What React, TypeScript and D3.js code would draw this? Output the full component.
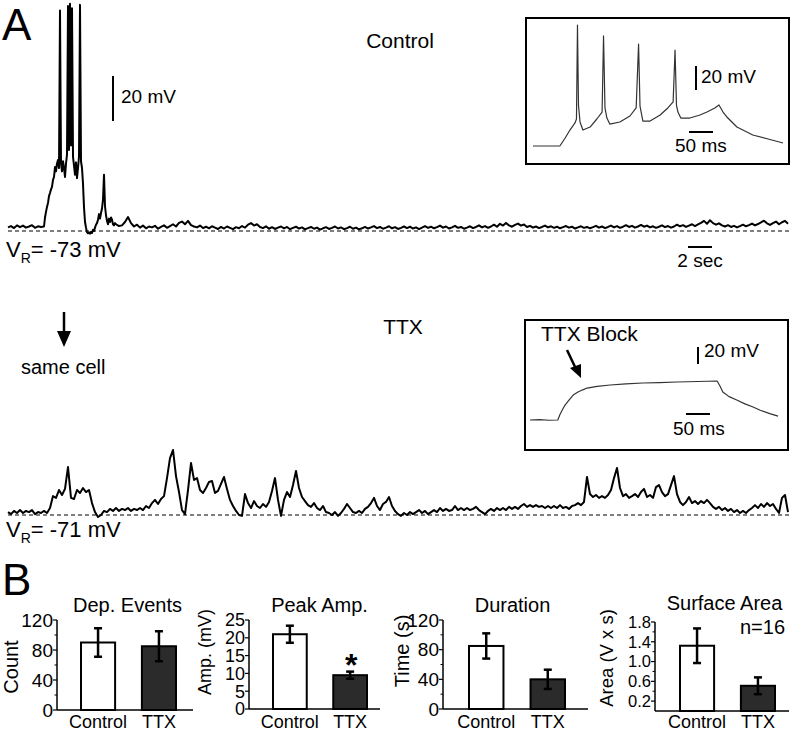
import React from "react";
import * as d3 from "d3";

const FONT = '"Liberation Sans", Arial, Helvetica, sans-serif';

// ---------- Panel A: traces, depolarisation above V_R (mV) ----------
// control, 0 – 2.75 s every 0.25 s
const controlPre = [1.6, 2.2, 1.3, 2.5, 1.7, 2.4, 1.5, 2.0, 2.6, 1.4, 2.1, 1.8];
// control burst, 3 s – 8.92 s every 1/12 s
const controlBurst = [
  2.0, 6.0, 8.5, 10.7, 12.5, 15.5, 16.9, 18.5, 19.6, 22.7,
  24.0, 28.4, 26.5, 30.0, 31.5, 28.0, 98.0, 30.0, 26.5, 31.0,
  28.0, 24.0, 30.0, 34.0, 100.0, 36.0, 101.0, 38.0, 99.0, 33.0,
  29.0, 25.0, 30.5, 23.5, 28.0, 33.0, 100.5, 31.0, 28.0, 21.0,
  10.5, 4.0, 1.5, -0.5, -1.0, -0.6, -1.2, -0.4, -0.9, 0.5,
  0.0, 1.5, 2.8, 3.5, 5.0, 7.5, 5.5, 8.0, 10.0, 14.0,
  25.0, 11.0, 7.0, 4.5, 3.0, 5.5, 4.0, 6.0, 5.0, 3.0,
  2.5, 3.5,
];
// control, 9 s – 65 s every 0.25 s
const controlPost = [
  3.0, 2.2, 2.5, 4.0, 6.2, 3.5, 2.0, 2.8, 1.5, 2.4, 1.2, 2.0, 1.6, 2.3, 1.0,
  1.8, 2.5, 1.4, 2.2, 3.0, 2.0, 3.6, 4.2, 3.0, 4.5, 2.6, 2.0, 1.6, 2.4, 1.3,
  1.9, 1.2, 2.1, 1.5, 0.9, 1.8, 1.1, 2.0, 1.4, 0.8, 1.7, 1.2, 2.2, 1.5, 2.8,
  3.5, 2.4, 3.0, 1.8, 1.3, 2.1, 1.0, 1.7, 0.9, 1.5, 2.0, 1.2, 1.8, 0.8, 1.4,
  1.9, 1.1, 1.6, 0.7, 1.3, 1.8, 1.0, 1.5, 0.6, 1.2, 1.7, 0.9, 1.4, 2.0, 1.1,
  1.6, 0.8, 1.3, 1.9, 1.0, 1.5, 0.7, 1.2, 1.8, 1.1, 1.6, 2.2, 1.3, 1.8, 1.0,
  1.5, 2.1, 1.2, 1.7, 0.9, 1.4, 2.0, 1.3, 1.9, 1.1, 1.6, 0.8, 1.5, 2.2, 1.4,
  1.9, 1.2, 1.7, 2.4, 1.5, 2.0, 1.1, 1.6, 2.3, 1.4, 1.8, 1.0, 1.5, 2.1, 1.3,
  1.8, 2.5, 1.6, 2.2, 1.4, 2.0, 2.8, 1.9, 3.2, 2.4, 3.6, 2.5, 1.9, 2.7, 3.3,
  2.4, 2.9, 1.8, 2.3, 1.5, 2.0, 1.3, 1.8, 2.4, 1.6, 2.1, 1.4, 1.9, 1.2, 1.7,
  2.2, 1.5, 1.9, 1.1, 1.6, 2.1, 1.4, 1.8, 1.2, 1.7, 2.3, 1.5, 2.0, 1.3, 1.8,
  2.4, 1.6, 2.2, 1.4, 1.9, 2.6, 1.8, 2.3, 1.5, 2.0, 2.7, 1.9, 2.4, 1.6, 2.1,
  1.4, 1.9, 2.5, 1.7, 2.2, 1.5, 2.0, 2.8, 2.1, 2.6, 1.8, 2.4, 3.0, 2.2, 2.9,
  3.6, 4.5, 3.2, 4.8, 3.5, 2.8, 3.4, 2.5, 2.0, 2.6, 1.8, 2.3, 1.6, 2.2, 2.8,
  2.1, 2.6, 3.3, 2.5, 3.1, 3.8, 4.6, 3.4, 2.7, 3.5, 4.2, 3.0, 3.9, 4.5, 3.2,
];
// TTX, 0 – 65 s every 0.25 s
const ttxTrace = [
  1.3, 0.4, 1.8, 0.9, 2.2, 0.9, 1.8, 1.3, 2.2, 0.4, 1.3, 0.9, 1.8, 0.9, 3.1,
  8.4, 7.6, 11.1, 8.9, 11.6, 21.3, 7.6, 7.1, 11.1, 9.8, 12.0, 10.2, 11.1, 5.3, 1.3,
  -0.9, 0, 1.8, 1.3, 2.7, 1.8, 3.1, 1.8, 2.7, 2.2, 3.1, 1.8, 2.7, 2.2, 3.1,
  2.2, 4.0, 3.1, 5.3, 6.7, 4.9, 7.1, 8.4, 16.4, 25.3, 28.9, 17.3, 10.2, 2.2, 0.4,
  11.1, 23.1, 15.6, 16.4, 11.1, 9.8, 12.0, 14.7, 15.1, 9.8, 10.7, 13.8, 16.9, 11.6, 6.7,
  4.0, 1.8, 0, -0.4, 9.3, 5.3, 3.1, 6.2, 4.0, 3.1, 4.9, 3.6, 5.8, 10.7, 16.4,
  6.7, -0.4, 6.7, 10.2, 8.0, 13.3, 19.6, 12.0, 8.0, 6.2, 4.4, 3.6, 5.3, 3.1, 2.2,
  4.0, 1.3, 0.9, 0, 1.3, -0.4, 0.9, 2.7, 4.9, 3.1, 1.3, 0.9, 1.8, 0.9, 2.7,
  3.6, 5.3, 7.6, 4.0, 2.2, 4.9, 5.8, 8.0, 4.0, 1.8, 0.4, -0.4, 0.9, 0, 1.3,
  0.4, 1.3, 2.2, 0.9, 1.8, 0.4, 1.3, 2.2, 1.3, 3.1, 1.8, 2.7, 1.8, 2.2, 4.0,
  2.2, 3.1, 2.2, 3.1, 2.2, 2.7, 3.6, 2.2, 1.3, 0.4, 1.8, 2.7, 1.8, 3.1, 2.2,
  3.1, 2.2, 3.6, 2.7, 3.6, 2.7, 4.0, 4.9, 3.6, 4.4, 3.6, 4.4, 3.6, 4.0, 3.1,
  4.0, 3.1, 4.0, 3.1, 4.4, 3.1, 3.6, 2.7, 4.0, 4.4, 5.3, 4.4, 5.8, 16.9, 9.3,
  8.0, 8.9, 7.6, 8.4, 7.6, 8.9, 11.1, 16.4, 20.9, 12.0, 8.4, 9.3, 7.6, 8.4, 9.3,
  8.0, 10.2, 11.6, 8.0, 8.9, 7.6, 12.4, 13.3, 10.2, 8.4, 9.3, 13.3, 17.3, 9.3, 5.8,
  4.4, 5.8, 8.0, 5.3, 6.2, 4.9, 6.2, 5.3, 6.7, 5.3, 3.6, 2.7, 3.6, 2.2, 3.1,
  1.8, 2.7, 1.3, 2.2, 0.9, 1.8, 0.9, 2.2, 3.1, 4.4, 3.1, 4.9, 3.6, 5.3, 4.0,
  4.9, 2.7, 0.9, 7.6, 8.9, 1.3,
];
// insets: [time ms, mV above start]
const insetControl: [number, number][] = [
  [0, 0], [56, 0], [67, 6.7], [77, 13.3], [87.5, 19.2], [90.6, 22.5], [92.7, 100.8], [94.8, 34],
  [98, 20], [104, 13.3], [119, 15.8], [133, 22.5], [144, 28.3], [147, 91.7], [150, 31.7],
  [154, 23.3], [160, 18.3], [181, 20], [202, 25], [215, 31.7], [220, 85], [223, 33.3],
  [229, 20.8], [244, 20.8], [265, 25.8], [281, 31.7], [292, 36.7], [296, 80], [299, 34],
  [302, 28.3], [308, 23.3], [327, 23.3], [348, 25.8], [362.5, 28.3], [379, 31.7], [387.5, 34.2],
  [396, 28.3], [404, 24.2], [425, 15.8], [458, 9.2], [490, 5.8], [521, 2.5],
];
const insetTTX: [number, number][] = [
  [0, 0], [20, 0.5], [40, -0.3], [58, 0], [62, 5.9], [67, 11.5], [73, 17.6], [80, 22.5],
  [90, 29.4], [100, 33], [110, 35.5], [119, 37.6], [140, 39.5], [167, 41.2], [200, 42.4],
  [235, 43.5], [270, 44], [306, 44.7], [350, 45.3], [390, 45.9], [396, 40], [402, 32.9],
  [415, 27.5], [431, 23.5], [448, 19], [465, 15.3], [480, 11.5], [500, 7.5], [517, 4.5],
];

// ---------- Panel B: bar charts ----------
const groups = ["Control", "TTX"];
const depEventsMean = [90, 85];
const depEventsErr = [19, 20];
const peakAmpMean = [21, 9.5];
const peakAmpErr = [2.4, 1.0];
const durationMean = [85, 40];
const durationErr = [17, 13];
const areaMean = [1.32, 0.51];
const areaErr = [0.35, 0.17];
const countTicks = [0, 40, 80, 120];
const countMinor = [20, 60, 100];
const ampTicks = [0, 5, 10, 15, 20, 25];
const timeTicks = [0, 40, 80, 120];
const timeMinor = [20, 60, 100];
const areaTicks = [0.2, 0.6, 1.0, 1.4, 1.8];
const areaMinor = [0.4, 0.8, 1.2, 1.6];

const panels = [
  { title: "Dep. Events", ylabel: "Count", mean: depEventsMean, err: depEventsErr, ticks: countTicks, minor: countMinor, max: 120, fmt: (d: number) => String(d), ax: 57, axEnd: 193, y0: 710, y1: 620, band: [81, 176], tx: 127.5, ty: 612, lx: 18, ly: 667, ls: 20, ts: 19 },
  { title: "Peak Amp.", ylabel: "Amp. (mV)", mean: peakAmpMean, err: peakAmpErr, ticks: ampTicks, minor: [] as number[], max: 25, fmt: (d: number) => String(d), ax: 249, axEnd: 380, y0: 709, y1: 620, band: [273, 367], tx: 319.5, ty: 612, lx: 211, ly: 652, ls: 18, ts: 18, star: true },
  { title: "Duration", ylabel: "Time (s)", mean: durationMean, err: durationErr, ticks: timeTicks, minor: timeMinor, max: 120, fmt: (d: number) => String(d), ax: 443, axEnd: 588, y0: 709, y1: 620, band: [469, 565], tx: 512.5, ty: 612, lx: 409, ly: 651, ls: 20, ts: 19 },
  { title: "Surface Area", ylabel: "Area (V x s)", mean: areaMean, err: areaErr, ticks: areaTicks, minor: areaMinor, max: 1.8, fmt: (d: number) => d.toFixed(1), ax: 655, axEnd: 789, y0: 711, y1: 622, band: [680, 775], tx: 724.5, ty: 610, lx: 613, ly: 658, ls: 18.5, ts: 16.5, note: "n=16" },
];

function BarPanel({ p }: { p: any }) {
  const y = d3.scaleLinear().domain([0, p.max]).range([p.y0, p.y1]);
  const x = d3.scaleBand<string>().domain(groups).range(p.band).paddingInner(0.44).paddingOuter(0);
  const bw = x.bandwidth();
  return (
    <g fontFamily={FONT}>
      <text x={p.tx} y={p.ty} fontSize={20} textAnchor="middle">{p.title}</text>
      {p.note && <text x={740} y={634} fontSize={20}>{p.note}</text>}
      {groups.map((g, i) => {
        const cx = (x(g) as number) + bw / 2;
        return (
          <g key={g}>
            <rect x={x(g)} y={y(p.mean[i])} width={bw} height={p.y0 - y(p.mean[i])}
              fill={i === 0 ? "#ffffff" : "#2b2b2b"} stroke="#000" strokeWidth={2} />
            <line x1={cx} x2={cx} y1={y(p.mean[i] - p.err[i])} y2={y(p.mean[i] + p.err[i])} stroke="#000" strokeWidth={2.5} />
            <line x1={cx - 4} x2={cx + 4} y1={y(p.mean[i] - p.err[i])} y2={y(p.mean[i] - p.err[i])} stroke="#000" strokeWidth={2.5} />
            <line x1={cx - 4} x2={cx + 4} y1={y(p.mean[i] + p.err[i])} y2={y(p.mean[i] + p.err[i])} stroke="#000" strokeWidth={2.5} />
            <text x={cx} y={728} fontSize={18} textAnchor="middle">{g}</text>
            {p.star && i === 1 && (
              <text x={cx + 1} y={676} fontSize={32} fontWeight="bold" textAnchor="middle">*</text>
            )}
          </g>
        );
      })}
      <line x1={p.ax} x2={p.ax} y1={p.y0} y2={p.y1} stroke="#000" strokeWidth={1.5} />
      <line x1={p.ax} x2={p.axEnd} y1={p.y0} y2={p.y0} stroke="#000" strokeWidth={1.5} />
      {p.ticks.map((t: number) => (
        <g key={t}>
          <line x1={p.ax - 4} x2={p.ax} y1={y(t)} y2={y(t)} stroke="#000" strokeWidth={1.2} />
          <text x={p.ax - 4} y={y(t)} dy="0.35em" fontSize={p.ts} textAnchor="end">{p.fmt(t)}</text>
        </g>
      ))}
      {p.minor.map((t: number) => (
        <line key={"m" + t} x1={p.ax - 2.5} x2={p.ax} y1={y(t)} y2={y(t)} stroke="#000" strokeWidth={1} />
      ))}
      <text transform={`translate(${p.lx},${p.ly}) rotate(-90)`} fontSize={p.ls} textAnchor="middle">{p.ylabel}</text>
    </g>
  );
}

export default function App() {
  const W = 799;
  const H = 733;
  const t = d3.scaleLinear().domain([0, 65]).range([8, 788]);
  const yC = d3.scaleLinear().domain([0, 20]).range([231, 186]);
  const yT = d3.scaleLinear().domain([0, 20]).range([515, 470]);

  const ctrlPts: [number, number][] = [
    ...controlPre.map((v, i) => [i * 0.25, v] as [number, number]),
    ...controlBurst.map((v, i) => [3 + i / 12, v] as [number, number]),
    ...controlPost.map((v, i) => [9 + i * 0.25, v] as [number, number]),
  ];
  const ttxPts: [number, number][] = ttxTrace.map((v, i) => [i * 0.25, v]);

  const lineC = d3.line<[number, number]>().x((d) => t(d[0])).y((d) => yC(d[1]));
  const lineT = d3.line<[number, number]>().x((d) => t(d[0])).y((d) => yT(d[1]));

  const i1x = d3.scaleLinear().domain([0, 521]).range([533, 783]);
  const i1y = d3.scaleLinear().domain([0, 20]).range([146, 122]);
  const i2x = d3.scaleLinear().domain([0, 517]).range([530, 778]);
  const i2y = d3.scaleLinear().domain([0, 20]).range([420, 403]);
  const line1 = d3.line<[number, number]>().x((d) => i1x(d[0])).y((d) => i1y(d[1]));
  const line2 = d3.line<[number, number]>().x((d) => i2x(d[0])).y((d) => i2y(d[1]));

  const sec2 = t(2) - t(0);
  const mv20 = yC(0) - yC(20);
  const ms50 = i1x(50) - i1x(0);

  return (
    <svg width={W} height={H} viewBox={`0 0 ${W} ${H}`}
      style={{ position: "absolute", left: 0, top: 0, background: "#fff" }}
      fontFamily={FONT}>
      <rect x={0} y={0} width={W} height={H} fill="#fff" />
      {/* Panel labels */}
      <text x={2} y={40} fontSize={44}>A</text>
      <text x={2} y={595} fontSize={44}>B</text>

      {/* Control trace */}
      <text x={400} y={48} fontSize={21} textAnchor="middle">Control</text>
      <line x1={8} x2={790} y1={yC(0)} y2={yC(0)} stroke="#000" strokeWidth={1.2} strokeDasharray="4 3" />
      <path d={lineC(ctrlPts) as string} fill="none" stroke="#000" strokeWidth={2} strokeLinejoin="round" />
      <line x1={113} x2={113} y1={121} y2={121 - mv20} stroke="#000" strokeWidth={2} />
      <text x={121} y={103} fontSize={19}>20 mV</text>
      <line x1={688} x2={688 + sec2} y1={247} y2={247} stroke="#000" strokeWidth={2} />
      <text x={700} y={267} fontSize={19} textAnchor="middle">2 sec</text>
      <text x={6} y={257} fontSize={22}>V<tspan fontSize={14} dy={6}>R</tspan><tspan dy={-6}>= -73 mV</tspan></text>

      {/* Inset 1 */}
      <rect x={526} y={18} width={263} height={146} fill="#fff" stroke="#000" strokeWidth={2} />
      <path d={line1(insetControl) as string} fill="none" stroke="#333" strokeWidth={1.2} strokeLinejoin="round" />
      <line x1={696} x2={696} y1={90} y2={90 - (i1y(0) - i1y(20))} stroke="#000" strokeWidth={2} />
      <text x={701} y={83} fontSize={19}>20 mV</text>
      <line x1={689} x2={689 + ms50} y1={132} y2={132} stroke="#000" strokeWidth={2} />
      <text x={675} y={152} fontSize={19}>50 ms</text>

      {/* TTX trace */}
      <text x={403} y={334} fontSize={21} textAnchor="middle">TTX</text>
      <line x1={64} x2={64} y1={312} y2={334} stroke="#000" strokeWidth={2.5} />
      <polygon points="57,331 71,331 64,347" fill="#000" />
      <text x={21} y={374} fontSize={20}>same cell</text>
      <line x1={8} x2={790} y1={yT(0)} y2={yT(0)} stroke="#000" strokeWidth={1.2} strokeDasharray="4 3" />
      <path d={lineT(ttxPts) as string} fill="none" stroke="#000" strokeWidth={2} strokeLinejoin="round" />
      <text x={6} y={537} fontSize={22}>V<tspan fontSize={14} dy={6}>R</tspan><tspan dy={-6}>= -71 mV</tspan></text>

      {/* Inset 2 */}
      <rect x={525} y={320} width={263} height={130} fill="#fff" stroke="#000" strokeWidth={2} />
      <text x={541} y={341} fontSize={21}>TTX Block</text>
      <line x1={567} x2={576} y1={350} y2={369} stroke="#000" strokeWidth={2.5} />
      <polygon points="570,368 581,364 581,378" fill="#000" />
      <path d={line2(insetTTX) as string} fill="none" stroke="#333" strokeWidth={1.2} strokeLinejoin="round" />
      <line x1={698} x2={698} y1={364} y2={364 - (i2y(0) - i2y(20))} stroke="#000" strokeWidth={2} />
      <text x={704} y={357} fontSize={19}>20 mV</text>
      <line x1={686} x2={686 + ms50} y1={414} y2={414} stroke="#000" strokeWidth={2} />
      <text x={673} y={435} fontSize={19}>50 ms</text>

      {/* Panel B */}
      {panels.map((p) => (
        <BarPanel key={p.title} p={p} />
      ))}
    </svg>
  );
}
